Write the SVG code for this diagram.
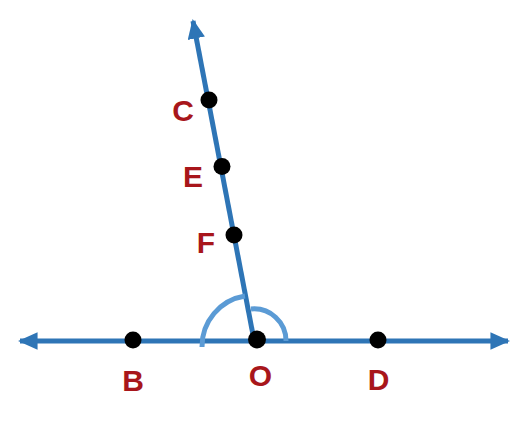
<svg xmlns="http://www.w3.org/2000/svg" width="528" height="425" viewBox="0 0 528 425">
<style>
.ln{stroke:#2e75b6;stroke-width:5;fill:none}
.arc{stroke:#5b9bd5;stroke-width:5;fill:none}
.dot{fill:#000}
.lb{font-family:"Liberation Sans",Arial,sans-serif;font-weight:bold;font-size:30px;fill:#a8161b;text-anchor:middle}
</style>
<defs>
<marker id="ah" viewBox="0 0 10 10" preserveAspectRatio="none" refX="9" refY="5" markerWidth="3.9" markerHeight="3.5" markerUnits="strokeWidth" orient="auto">
<path d="M0,0 L10,5 L0,10 Z" fill="#2e75b6"/>
</marker>
</defs>
<rect width="528" height="425" fill="#fff"/>
<g id="connectors">
<line class="ln" x1="257" y1="341" x2="20" y2="341" marker-end="url(#ah)"/>
<line class="ln" x1="257" y1="341" x2="508" y2="341" marker-end="url(#ah)"/>
<line class="ln" x1="254" y1="340" x2="193" y2="21" marker-end="url(#ah)"/>
<path class="arc" d="M202,347 A51,51 0 0 1 245,296"/>
<path class="arc" d="M251,309 A32,32 0 0 1 286,341"/>
</g>
<g id="node-C"><circle class="dot" cx="209" cy="100" r="8.5"/><text class="lb" x="183" y="121">C</text></g>
<g id="node-E"><circle class="dot" cx="222" cy="166.5" r="8.5"/><text class="lb" x="193" y="187">E</text></g>
<g id="node-F"><circle class="dot" cx="234" cy="235" r="8.5"/><text class="lb" x="206" y="253">F</text></g>
<g id="node-B"><circle class="dot" cx="133" cy="340" r="8.5"/><text class="lb" x="133" y="391">B</text></g>
<g id="node-O"><circle class="dot" cx="257" cy="339.5" r="9"/><text class="lb" x="260.5" y="386">O</text></g>
<g id="node-D"><circle class="dot" cx="378" cy="340" r="8.5"/><text class="lb" x="378.5" y="390">D</text></g>
</svg>
